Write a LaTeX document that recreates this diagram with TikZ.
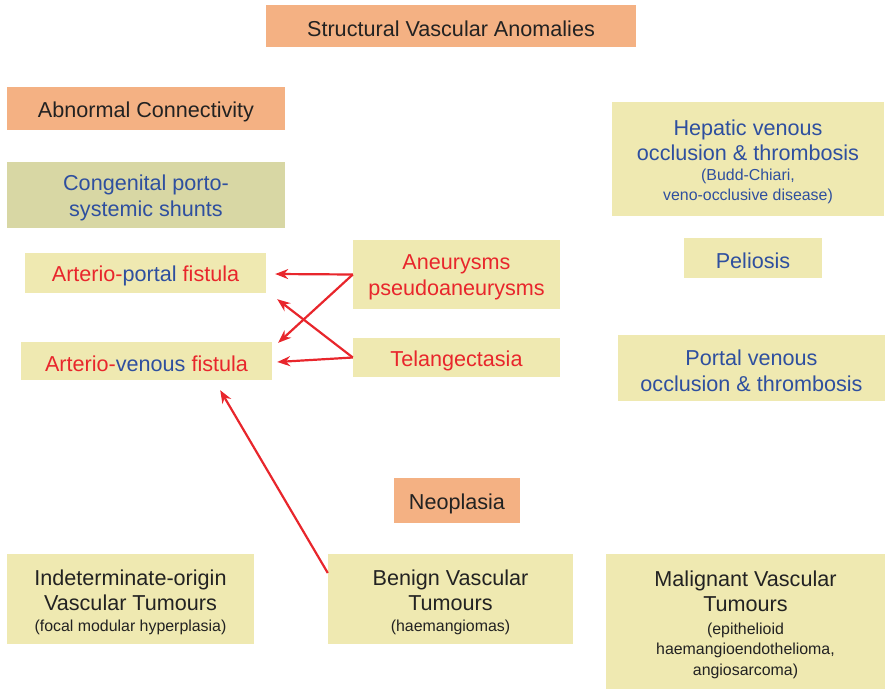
\documentclass[tikz,border=0pt]{standalone}
\usepackage{fontspec}
\setmainfont{Liberation Sans}
\usetikzlibrary{arrows.meta}
\definecolor{orangebox}{HTML}{F4B183}
\definecolor{olivebox}{HTML}{D8D7A4}
\definecolor{yellowbox}{HTML}{EFE9B1}
\definecolor{txtblue}{HTML}{2E4F9F}
\definecolor{txtred}{HTML}{E8262C}
\definecolor{txtdark}{HTML}{222222}
\newcommand{\bigf}{\fontsize{21.6}{25.5}\selectfont}
\newcommand{\smallf}{\fontsize{15.9}{20}\selectfont}
\tikzset{
  box/.style={rectangle, inner sep=0pt},
  obox/.style={box, fill=orangebox},
  gbox/.style={box, fill=olivebox},
  ybox/.style={box, fill=yellowbox},
  txt/.style={inner sep=0pt, align=center, font=\bigf},
  arr/.style={draw=txtred, line width=2.2pt, -{Stealth[length=13pt,width=10pt]}}
}
% #1 name, #2 box style, #3 text colour, #4 centre, #5 width, #6 height, #7 text
\newcommand{\boxnode}[7]{%
  \node[#2, minimum width=#5pt, minimum height=#6pt] (#1) at (#4) {};
  \node[txt, text=#3] (#1-t) at ([yshift=-3pt]#1.center) {#7};
}
\begin{document}
\begin{tikzpicture}[x=1pt,y=-1pt]
\useasboundingbox (0,0) rectangle (886,690);
% top
\boxnode{title}{obox}{txtdark}{451,26}{370}{42}{Structural Vascular Anomalies}
\boxnode{abn}{obox}{txtdark}{146,108.5}{278}{43}{Abnormal Connectivity}
\boxnode{cong}{gbox}{txtblue}{146,195}{278}{66}{Congenital porto-\\systemic shunts}
\boxnode{ap}{ybox}{txtred}{145.5,273}{241}{40}{Arterio-\textcolor{txtblue}{portal} fistula}
\boxnode{av}{ybox}{txtred}{146.5,361}{251}{38}{Arterio-\textcolor{txtblue}{venous} fistula}
\boxnode{aneu}{ybox}{txtred}{456.5,274.5}{207}{69}{Aneurysms\\pseudoaneurysms}
\boxnode{tel}{ybox}{txtred}{456.5,357.5}{207}{39}{Telangectasia}
% right column
\boxnode{hep}{ybox}{txtblue}{748,159}{272}{114}{Hepatic venous\\occlusion \& thrombosis\\[-6pt]{\smallf (Budd-Chiari,}\\[-5pt]{\smallf veno-occlusive disease)}}
\boxnode{pel}{ybox}{txtblue}{753,258}{138}{40}{Peliosis}
\boxnode{pv}{ybox}{txtblue}{751.5,368}{267}{66}{Portal venous\\occlusion \& thrombosis}
% neoplasia
\boxnode{neo}{obox}{txtdark}{457,500.5}{126}{45}{Neoplasia}
\boxnode{ind}{ybox}{txtdark}{130.5,599}{247}{90}{Indeterminate-origin\\Vascular Tumours\\[-5pt]{\smallf (focal modular hyperplasia)}}
\boxnode{ben}{ybox}{txtdark}{450.5,599}{245}{90}{Benign Vascular\\Tumours\\[-5pt]{\smallf (haemangiomas)}}
\boxnode{mal}{ybox}{txtdark}{745.5,621.5}{279}{135}{Malignant Vascular\\Tumours\\[-3pt]{\smallf (epithelioid}\\[-5pt]{\smallf haemangioendothelioma,}\\[-5pt]{\smallf angiosarcoma)}}
% arrows
\draw[arr] (aneu.west) -- ([shift={(9,1)}]ap.east);
\draw[arr] (aneu.west) -- ([shift={(6,1)}]av.north east);
\draw[arr] (tel.west) -- ([shift={(11,6)}]ap.south east);
\draw[arr] (tel.west) -- ([shift={(5,1)}]av.east);
\draw[arr] ([shift={(0,-26)}]ben.west) -- ([shift={(-52,10)}]av.south east);
\end{tikzpicture}
\end{document}
